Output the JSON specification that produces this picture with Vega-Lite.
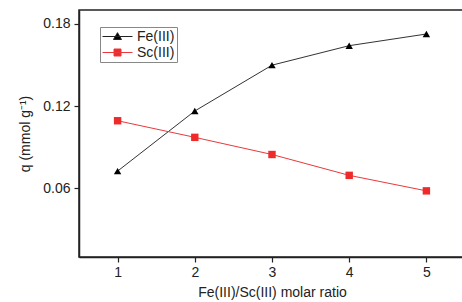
{
  "$schema": "https://vega.github.io/schema/vega-lite/v6.json",
  "autosize": "none",
  "width": 386,
  "height": 247,
  "padding": {"left": 79, "top": 10, "right": 0, "bottom": 45},
  "config": {
    "view": {"stroke": "#222", "strokeWidth": 1.5},
    "font": "Liberation Sans",
    "axis": {
      "grid": false, "domainColor": "#222", "domainWidth": 1.5, "tickColor": "#222", "tickWidth": 1.2, "tickSize": 5,
      "labelFontSize": 14, "labelColor": "#222", "titleFontSize": 14, "titleFontWeight": "normal", "titleColor": "#222"
    },
    "legend": {"strokeColor": "#888888", "fillColor": "#ffffff"}
  },
  "data": {
    "values": [
      {"ratio": 1, "q": 0.0726, "ion": "Fe(III)"},
      {"ratio": 2, "q": 0.1164, "ion": "Fe(III)"},
      {"ratio": 3, "q": 0.1498, "ion": "Fe(III)"},
      {"ratio": 4, "q": 0.1640, "ion": "Fe(III)"},
      {"ratio": 5, "q": 0.1725, "ion": "Fe(III)"},
      {"ratio": 1, "q": 0.1093, "ion": "Sc(III)"},
      {"ratio": 2, "q": 0.0972, "ion": "Sc(III)"},
      {"ratio": 3, "q": 0.0847, "ion": "Sc(III)"},
      {"ratio": 4, "q": 0.0695, "ion": "Sc(III)"},
      {"ratio": 5, "q": 0.0582, "ion": "Sc(III)"}
    ]
  },
  "encoding": {
    "x": {"field": "ratio", "type": "quantitative", "scale": {"domain": [0.5, 5.5], "nice": false, "zero": false},
      "axis": {"values": [1, 2, 3, 4, 5], "title": "Fe(III)/Sc(III) molar ratio", "labelPadding": 3, "titlePadding": 6}},
    "y": {"field": "q", "type": "quantitative", "scale": {"domain": [0.01, 0.19], "nice": false, "zero": false},
      "axis": {"values": [0.06, 0.12, 0.18], "format": ".2f", "title": "q (mmol g⁻¹)", "labelPadding": 4, "titlePadding": 10}}
  },
  "layer": [
    {
      "mark": {"type": "line", "strokeWidth": 1},
      "encoding": {
        "detail": {"field": "ion", "type": "nominal"},
        "stroke": {"condition": {"test": "datum.ion === 'Fe(III)'", "value": "#333333"}, "value": "#e8393b"}
      }
    },
    {
      "mark": {"type": "point", "filled": true, "opacity": 1},
      "encoding": {
        "color": {"condition": {"test": "datum.ion === 'Fe(III)'", "value": "#000000"}, "value": "#ee2a2a"},
        "shape": {"condition": {"test": "datum.ion === 'Fe(III)'", "value": "triangle-up"}, "value": "square"},
        "size": {"value": 55}
      }
    },
    {
      "mark": {"type": "point", "opacity": 0, "strokeWidth": 1},
      "encoding": {
        "shape": {"field": "ion", "type": "nominal", "scale": {"domain": ["Fe(III)", "Sc(III)"], "range": ["M-1,0H3.286M1.143,-0.55L1.714,0.43L0.571,0.43Z", "M-1,0H3.286M0.643,-0.5H1.643V0.5H0.643Z"]},
          "legend": {
            "title": null, "orient": "none", "legendX": 21, "legendY": 17,
            "strokeColor": "#888888", "padding": 2, "labelFontSize": 14, "labelColor": "#222",
            "symbolSize": 196, "symbolOpacity": 1, "symbolStrokeWidth": 1, "labelOffset": 20, "rowPadding": 1
          }},
        "fill": {"field": "ion", "type": "nominal", "scale": {"domain": ["Fe(III)", "Sc(III)"], "range": ["#000000", "#ee2a2a"]}},
        "stroke": {"field": "ion", "type": "nominal", "scale": {"domain": ["Fe(III)", "Sc(III)"], "range": ["#222222", "#e8393b"]}},
        "size": {"value": 55}
      }
    }
  ]
}
